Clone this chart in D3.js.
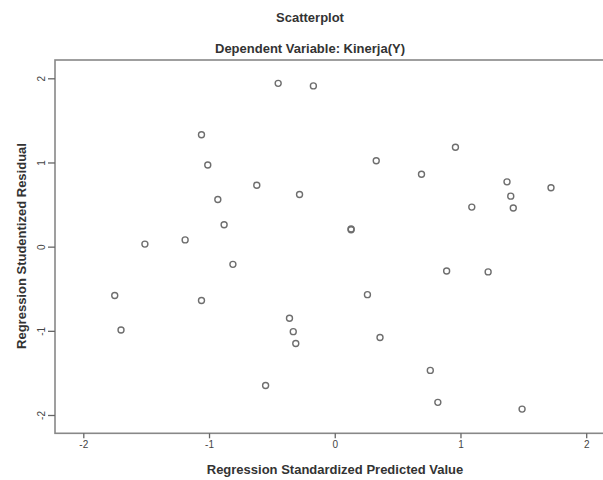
<!DOCTYPE html>
<html>
<head>
    <meta charset="utf-8">
    <title>scatterplot</title>
    <script type="text/javascript" src="https://cdn.jsdelivr.net/npm/d3@7/dist/d3.min.js"></script>
    <style>
        body { margin: 0; background: #fff; }
        text { font-family: "Liberation Sans", Arial, sans-serif; }
    </style>
</head>

<body>

<div id="graphDiv"></div>

<script>

var width = 603,
    height = 480,
    predicted = [-0.45, -0.17, -1.06, -1.01, -0.62, -0.28, -0.93, -0.88, -1.51, -1.19,
                 0.96, 0.33, 0.69, 1.37, 1.72, 1.40, 1.09, 1.42, 0.13, 0.13,
                 -0.81, -1.75, -1.06, -1.70, -0.36, -0.33, -0.31, -0.55,
                 0.89, 1.22, 0.26, 0.36, 0.76, 0.82, 1.49],
    residual = [1.94, 1.91, 1.33, 0.97, 0.73, 0.62, 0.56, 0.26, 0.03, 0.08,
                1.18, 1.02, 0.86, 0.77, 0.70, 0.60, 0.47, 0.46, 0.20, 0.21,
                -0.21, -0.58, -0.64, -0.99, -0.85, -1.01, -1.15, -1.65,
                -0.29, -0.30, -0.57, -1.08, -1.47, -1.85, -1.93],
    xTicks = [-2, -1, 0, 1, 2],
    yTicks = [-2, -1, 0, 1, 2],
    title = "Scatterplot",
    subtitle = "Dependent Variable: Kinerja(Y)",
    xLabel = "Regression Standardized Predicted Value",
    yLabel = "Regression Studentized Residual";

var x = d3.scaleLinear().domain([-2, 2]).range([83.3, 586.2]),
    y = d3.scaleLinear().domain([-2, 2]).range([415, 78.3]);

// frame edges (right edge runs off the picture)
var frame = {left: 55, right: 612, top: 60, bottom: 433.3};

var data = predicted.map(function(d, i) { return {x: d, y: residual[i]}; });

function drawGraph() {
    var chart = d3.select('#graphDiv').append('svg')
        .attr('width', width)
        .attr('height', height);

    chart.append("text")
        .attr("x", 310).attr("y", 22)
        .attr("text-anchor", "middle")
        .style("font-size", "13px").style("font-weight", "bold").style("fill", "#333")
        .text(title);

    chart.append("text")
        .attr("x", 310).attr("y", 53)
        .attr("text-anchor", "middle")
        .style("font-size", "13px").style("font-weight", "bold").style("fill", "#333")
        .text(subtitle);

    // plot frame
    chart.append("rect")
        .attr("x", frame.left).attr("y", frame.top)
        .attr("width", frame.right - frame.left).attr("height", frame.bottom - frame.top)
        .style("fill", "#fff")
        .style("stroke", "#888")
        .style("stroke-width", "1.6px");

    // x axis ticks
    var xAxis = chart.append("g")
        .attr("transform", "translate(0," + frame.bottom + ")")
        .call(d3.axisBottom(x).tickValues(xTicks).tickSize(5).tickPadding(3).tickFormat(String));
    xAxis.select(".domain").remove();
    xAxis.selectAll("line").style("stroke", "#666").style("stroke-width", "1.3px");
    xAxis.selectAll("text").style("font-size", "10px").style("fill", "#444")
        .style("font-family", "'Liberation Sans', Arial, sans-serif");

    // y axis ticks, labels turned on their side
    var yAxis = chart.append("g")
        .attr("transform", "translate(" + frame.left + ",0)")
        .call(d3.axisLeft(y).tickValues(yTicks).tickSize(7).tickFormat(String));
    yAxis.select(".domain").remove();
    yAxis.selectAll("line").style("stroke", "#666").style("stroke-width", "1.3px");
    yAxis.selectAll("text")
        .attr("x", null).attr("dy", null)
        .attr("text-anchor", "middle")
        .attr("transform", "translate(-10,0) rotate(-90)")
        .style("font-size", "10px").style("fill", "#444")
        .style("font-family", "'Liberation Sans', Arial, sans-serif");

    // points
    chart.selectAll(".dot")
        .data(data)
        .enter().append("circle")
        .attr("class", "dot")
        .attr("cx", function(d) { return x(d.x); })
        .attr("cy", function(d) { return y(d.y); })
        .attr("r", 3)
        .style("fill", "none")
        .style("stroke", "#6e6e6e")
        .style("stroke-width", "1.4px");

    chart.append("text")
        .attr("x", 335).attr("y", 474)
        .attr("text-anchor", "middle")
        .style("font-size", "13px").style("font-weight", "bold").style("fill", "#333")
        .text(xLabel);

    chart.append("text")
        .attr("transform", "translate(26,246) rotate(-90)")
        .attr("text-anchor", "middle")
        .style("font-size", "13px").style("font-weight", "bold").style("fill", "#333")
        .text(yLabel);
}

drawGraph();

</script>

</body>
</html>
